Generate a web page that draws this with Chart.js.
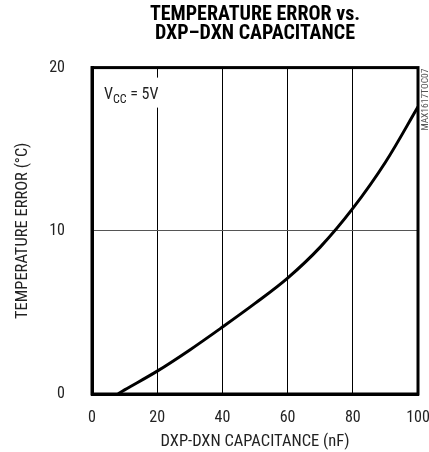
<!DOCTYPE html>
<html>
<head>
<meta charset="utf-8">
<script src="https://cdn.jsdelivr.net/npm/chart.js@4"></script>
<style>
html,body{margin:0;padding:0;background:#fff;}
#wrap{width:429px;height:452px;}
</style>
</head>
<body>
<div id="wrap"><canvas id="c" width="429" height="452"></canvas></div>
<script>
const FONT = "'Liberation Sans Narrow','Arial Narrow','Roboto Condensed','Liberation Sans',sans-serif";
const titleLines = ["TEMPERATURE ERROR vs.", "DXP\u2013DXN CAPACITANCE"];
const xTitle = "DXP-DXN CAPACITANCE (nF)";
const yTitle = "TEMPERATURE ERROR (\u00B0C)";
const xTicks = [0, 20, 40, 60, 80, 100];
const yTicks = [0, 10, 20];
const capacitance = [8, 10, 20, 30, 40, 50, 60, 70, 80, 90, 100];
const tempError   = [0, 0.25, 1.4, 2.7, 4.1, 5.55, 7.1, 9.0, 11.37, 14.2, 17.6];
const noteMain = "V";
const noteSub = "CC";
const noteRest = " = 5V";
const partCode = "MAX1617TOC07";

const points = capacitance.map((x, i) => ({x: x, y: tempError[i]}));

const decor = {
  id: 'decor',
  afterDatasetsDraw(chart) {
    const ctx = chart.ctx;
    const a = chart.chartArea;
    ctx.save();
    ctx.strokeStyle = '#000';
    ctx.lineWidth = 3;
    ctx.strokeRect(a.left, a.top, a.right - a.left, a.bottom - a.top);
    ctx.fillStyle = '#fff';
    ctx.fillRect(a.left + 8, a.top + 10, 58, 30);
    ctx.fillStyle = '#222';
    ctx.textBaseline = 'alphabetic';
    ctx.textAlign = 'left';
    let x = a.left + 12, y = a.top + 31;
    ctx.font = "16px " + FONT;
    ctx.fillText(noteMain, x, y);
    x += ctx.measureText(noteMain).width;
    ctx.font = "12px " + FONT;
    ctx.fillText(noteSub, x, y + 4);
    x += ctx.measureText(noteSub).width;
    ctx.font = "16px " + FONT;
    ctx.fillText(noteRest, x, y);
    ctx.translate(a.right + 8, a.top + 1);
    ctx.rotate(-Math.PI / 2);
    ctx.font = "9.5px " + FONT;
    ctx.fillStyle = '#555';
    ctx.textAlign = 'right';
    ctx.textBaseline = 'middle';
    ctx.fillText(partCode, 0, 0);
    ctx.restore();
  }
};

new Chart(document.getElementById('c'), {
  type: 'scatter',
  data: {
    datasets: [{
      data: points,
      showLine: true,
      borderColor: '#000',
      borderWidth: 3,
      pointRadius: 0,
      tension: 0.35,
      fill: false
    }]
  },
  options: {
    responsive: false,
    animation: false,
    devicePixelRatio: 1,
    layout: { padding: { left: 0, right: 0, top: 0, bottom: 0 } },
    plugins: {
      legend: { display: false },
      tooltip: { enabled: false },
      title: {
        display: true,
        text: titleLines,
        fullSize: false,
        color: '#000',
        font: { family: FONT, size: 20, weight: 'bold', lineHeight: 0.94 },
        padding: { top: 6, bottom: 24 }
      }
    },
    scales: {
      x: {
        type: 'linear',
        min: 0, max: 100,
        afterFit(s) { s.height = 58; s.paddingRight = 11; s.paddingLeft = 0; },
        afterBuildTicks(s) { s.ticks = xTicks.map(v => ({value: v})); },
        ticks: { color: '#222', padding: 14, font: { family: FONT, size: 16 }, maxRotation: 0 },
        grid: { color: '#000', lineWidth: 1, drawTicks: false },
        border: { color: '#000', width: 3 },
        title: { display: true, text: xTitle, color: '#222', font: { family: FONT, size: 16.5 }, padding: { top: 3, bottom: 0 } }
      },
      y: {
        type: 'linear',
        min: 0, max: 20,
        afterFit(s) { s.width = 92; },
        afterBuildTicks(s) { s.ticks = yTicks.map(v => ({value: v})); },
        ticks: { color: '#222', padding: 27, font: { family: FONT, size: 16 } },
        grid: { color: '#555', lineWidth: 1, drawTicks: false },
        border: { color: '#000', width: 3 },
        title: { display: true, text: yTitle, color: '#222', font: { family: FONT, size: 16.5 }, padding: { top: 13, bottom: 0 } }
      }
    }
  },
  plugins: [decor]
});
</script>
</body>
</html>
